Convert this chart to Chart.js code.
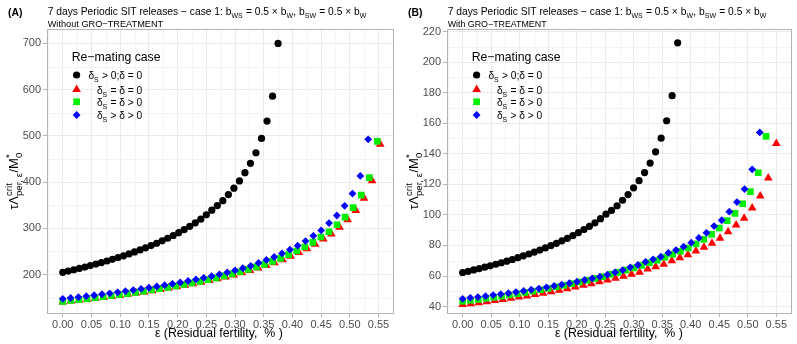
<!DOCTYPE html>
<html><head><meta charset="utf-8">
<script src="https://cdn.jsdelivr.net/npm/chart.js@4.4.0/dist/chart.umd.min.js"></script>
<style>
html,body{margin:0;padding:0;background:#fff;}
#wrap{position:relative;width:797px;height:344px;overflow:hidden;background:#fff;}
.pane{position:absolute;top:0;height:344px;}
</style></head><body>
<div id="wrap">
<div class="pane" style="left:0;width:400px"><canvas id="cA" width="400" height="344"></canvas></div>
<div class="pane" style="left:400px;width:397px"><canvas id="cB" width="397" height="344"></canvas></div>
</div>
<script>
// ---------- tick labels ----------
const xTicks = [0, 0.05, 0.10, 0.15, 0.20, 0.25, 0.30, 0.35, 0.40, 0.45, 0.50, 0.55];
const yTicksA = [200, 300, 400, 500, 600, 700];
const yTicksB = [40, 60, 80, 100, 120, 140, 160, 180, 200, 220];
const legendLabels = ['δS > 0;δ = 0', 'δS = δ = 0', 'δS = δ > 0', 'δS > δ > 0'];

// ---------- Panel A (Without GRO-TREATMENT) ----------
const epsA_black = [0,.0096,.0192,.0288,.0385,.0481,.0577,.0673,.0769,.0865,.0962,.1058,.1154,.125,.1346,.1442,.1538,.1635,.1731,.1827,.1923,.2019,.2115,.2212,.2308,.2404,.25,.2596,.2692,.2788,.2885,.2981,.3077,.3173,.3269,.3365,.3462,.3558,.3654,.375];
const valA_black = [205,207.7,210.5,213.4,216.4,219.5,222.7,226,229.5,233,236.8,240.7,244.8,249,253.4,258,262.8,267.8,273.1,278.7,284.6,290.8,297.4,304.4,311.9,320,329.3,339.4,349.4,360,373,386.9,402.6,420.5,440.7,463.6,494.6,532,586,700];

const epsA_red = [0,.0142,.0284,.0425,.0567,.0709,.0851,.0993,.1134,.1276,.1418,.156,.1702,.1843,.1985,.2127,.2269,.2411,.2552,.2694,.2836,.2978,.312,.3261,.3403,.3545,.3687,.3829,.397,.4112,.4254,.4396,.4538,.4679,.4821,.4963,.5105,.5247,.5388,.553];
const valA_red = [140.8,142.7,144.6,146.6,148.6,150.7,152.9,155.1,157.5,160,162.5,165.2,168,170.8,173.8,176.9,180.2,183.6,187.2,191.1,195.1,199.4,204,208.9,214.1,219.6,225.8,232.1,239.8,247.6,256,265.6,276.9,288,302.6,318.8,338.8,365,403,482];

const epsA_green = [0,.0141,.0281,.0422,.0562,.0703,.0843,.0984,.1124,.1265,.1405,.1546,.1686,.1827,.1967,.2108,.2248,.2389,.2529,.267,.281,.2951,.3091,.3232,.3372,.3513,.3653,.3794,.3934,.4075,.4215,.4356,.4496,.4637,.4777,.4918,.5058,.5199,.5339,.548];
const valA_green = [142.1,144,145.9,148,150,152.1,154.3,156.6,159,161.5,164.1,166.8,169.6,172.5,175.5,178.6,182,185.4,189.1,193,197.2,201.6,206.3,211.3,216.6,222.2,228.7,235.1,243.1,251.1,259.7,269.6,281.3,292.7,307.8,324.4,345,371.8,409.7,488.1];

const epsA_blue = [0,.0136,.0273,.0409,.0546,.0682,.0818,.0955,.1091,.1228,.1364,.15,.1637,.1773,.191,.2046,.2182,.2319,.2455,.2592,.2728,.2864,.3001,.3137,.3274,.341,.3546,.3683,.3819,.3956,.4092,.4228,.4365,.4501,.4638,.4774,.491,.5047,.5183,.532];
const valA_blue = [147.6,149.4,151.3,153.3,155.4,157.5,159.6,161.8,164.1,166.5,169,171.6,174.3,177.1,180,183,186.2,189.5,193,196.7,200.6,204.7,209.1,213.8,218.8,225.2,231.7,238.1,245.9,253.9,262.5,272.6,284,295.5,311.4,327.8,348.7,375.2,413.4,492.5];

// ---------- Panel B (With GRO-TREATMENT) ----------
const epsB_black = [0,.0097,.0193,.029,.0387,.0483,.058,.0677,.0773,.087,.0967,.1063,.116,.1257,.1353,.145,.1547,.1643,.174,.1837,.1933,.203,.2127,.2223,.232,.2417,.2513,.261,.2707,.2803,.29,.2997,.3093,.319,.3287,.3383,.348,.3577,.3673,.377];
const valB_black = [62.3,63.1,64,64.9,65.8,66.7,67.7,68.7,69.7,70.8,72,73.2,74.4,75.7,77,78.4,79.9,81.4,83,84.7,86.5,88.4,90.4,92.5,94.8,97.5,100.5,102.9,106,109.6,113.3,117.7,122.4,127.7,133.9,141.3,150.2,161.6,178,212.6];

const epsB_red = [0,.0141,.0282,.0423,.0564,.0705,.0846,.0987,.1128,.1269,.141,.1551,.1692,.1833,.1974,.2115,.2256,.2397,.2538,.2679,.282,.2961,.3102,.3243,.3384,.3526,.3667,.3808,.3949,.409,.4231,.4372,.4513,.4654,.4795,.4936,.5077,.5218,.5359,.55];
const valB_red = [41.3,41.9,42.5,43.2,43.9,44.6,45.4,46.2,47,47.9,48.8,49.7,50.7,51.7,52.8,53.9,55,56.2,57.4,58.5,59.8,61.1,62.4,64.6,66.1,67.7,70,72,74,76.4,78.8,81.4,84.7,89,93.4,97.8,104.5,112.4,124.1,146.8];

const epsB_green = [0,.0136,.0273,.0409,.0546,.0682,.0818,.0955,.1091,.1228,.1364,.15,.1637,.1773,.191,.2046,.2182,.2319,.2455,.2592,.2728,.2864,.3001,.3137,.3274,.341,.3546,.3683,.3819,.3956,.4092,.4228,.4365,.4501,.4638,.4774,.491,.5047,.5183,.532];
const valB_green = [43.5,44.1,44.7,45.4,46.1,46.8,47.6,48.4,49.2,50.1,51,51.9,52.9,53.9,55,56.1,57.2,58.4,59.6,61.1,62.4,63.9,65.3,67,68.7,70.3,72.3,74.2,76.2,78.3,81,84,87.3,91.4,96.2,101,107.3,115.2,127.6,151.4];

const epsB_blue = [0,.0134,.0267,.0401,.0534,.0668,.0802,.0935,.1069,.1202,.1336,.147,.1603,.1737,.187,.2004,.2138,.2271,.2405,.2538,.2672,.2806,.2939,.3073,.3206,.334,.3474,.3607,.3741,.3874,.4008,.4142,.4275,.4409,.4542,.4676,.481,.4943,.5077,.521];
const valB_blue = [45.1,45.7,46.2,46.8,47.5,48.1,48.8,49.5,50.2,51,51.8,52.6,53.5,54.4,55.3,56.3,57.4,58.5,59.6,60.9,62.4,63.9,65.7,67.2,69.2,70.9,72.6,75.1,77,79.2,81.8,84.9,88.3,92.7,96.5,102.1,108.4,116.9,129.8,154];

// ---------- styling ----------
const FONT = '"Liberation Sans", Arial, Helvetica, sans-serif';
const COL = {black:'#000000', red:'#ff0000', green:'#00ee00', blue:'#0000ff'};
const SHAPE = {black:{style:'circle', r:3.6}, red:{style:'triangle', r:5}, green:{style:'rect', r:4.7}, blue:{style:'rectRot', r:3.9}};
let SCR = 0.68;

function pts(xs, ys){ return xs.map((x,i)=>({x:x, y:ys[i]})); }

function segW(ctx, s, size, bold){
  const b = bold ? 'bold ' : '';
  if (s.t !== undefined){ ctx.font = b + size + 'px ' + FONT; return ctx.measureText(s.t).width; }
  ctx.font = b + (size*SCR) + 'px ' + FONT;
  let w = 0;
  if (s.sub) w = Math.max(w, ctx.measureText(s.sub).width);
  if (s.sup) w = Math.max(w, ctx.measureText(s.sup).width);
  return w + size*0.04;
}
function richW(ctx, segs, size, bold){ let w=0; for(const s of segs) w+=segW(ctx,s,size,bold); return w; }
function drawRich(ctx, segs, x, y, size, bold){
  const b = bold ? 'bold ' : '';
  let cx = x;
  ctx.textAlign='left'; ctx.textBaseline='alphabetic';
  for (const s of segs){
    const w = segW(ctx, s, size, bold);
    if (s.t !== undefined){ ctx.font = b + size + 'px ' + FONT; ctx.fillText(s.t, cx, y); }
    else {
      ctx.font = b + (size*SCR) + 'px ' + FONT;
      if (s.sub) ctx.fillText(s.sub, cx, y + size*0.3);
      if (s.sup) ctx.fillText(s.sup, cx, y - size*0.45);
    }
    cx += w;
  }
}
function fit(ctx, segs, target, bold){ const w = richW(ctx, segs, 10, bold); return 10*target/w; }

function legendSegs(label){
  return [{t:'δ'},{sub:'S'},{t:label.slice(2)}];
}

function drawMarker(ctx, kind, x, y){
  const sh = SHAPE[kind], r = sh.r;
  ctx.fillStyle = COL[kind];
  ctx.beginPath();
  if (sh.style==='circle'){ ctx.arc(x,y,r,0,Math.PI*2); }
  else if (sh.style==='triangle'){
    ctx.moveTo(x, y - r);
    ctx.lineTo(x + r*Math.sin(Math.PI*2/3), y - r*Math.cos(Math.PI*2/3));
    ctx.lineTo(x + r*Math.sin(Math.PI*4/3), y - r*Math.cos(Math.PI*4/3));
    ctx.closePath();
  } else if (sh.style==='rect'){ const s=r*Math.SQRT1_2; ctx.rect(x-s,y-s,2*s,2*s); }
  else { ctx.moveTo(x,y-r); ctx.lineTo(x+r,y); ctx.lineTo(x,y+r); ctx.lineTo(x-r,y); ctx.closePath(); }
  ctx.fill();
}

function decorPlugin(cfg){
  return {
    id:'decor'+cfg.letter,
    beforeDatasetsDraw(chart){
      const ctx = chart.ctx, a = chart.chartArea, xs = chart.scales.x, ys = chart.scales.y;
      ctx.save();
      ctx.strokeStyle = '#f4f4f4'; ctx.lineWidth = 1;
      for (let i=-1;i<xTicks.length;i++){
        const v = (i<0? xTicks[0]-0.025 : xTicks[i]+0.025);
        if (v < xs.min || v > xs.max) continue;
        const px = Math.round(xs.getPixelForValue(v))+0.5;
        ctx.beginPath(); ctx.moveTo(px,a.top); ctx.lineTo(px,a.bottom); ctx.stroke();
      }
      const yt = cfg.yTicks, st = yt[1]-yt[0];
      for (let i=-1;i<yt.length;i++){
        const v = (i<0? yt[0]-st/2 : yt[i]+st/2);
        if (v < ys.min || v > ys.max) continue;
        const py = Math.round(ys.getPixelForValue(v))+0.5;
        ctx.beginPath(); ctx.moveTo(a.left,py); ctx.lineTo(a.right,py); ctx.stroke();
      }
      ctx.restore();
    },
    afterDatasetsDraw(chart){
      const ctx = chart.ctx, a = chart.chartArea;
      ctx.save();
      ctx.strokeStyle = '#b3b3b3'; ctx.lineWidth = 1;
      ctx.strokeRect(Math.round(a.left)+0.5, Math.round(a.top)-0.5, Math.round(a.right-a.left)-1, Math.round(a.bottom-a.top)+1);
      ctx.restore();
    },
    afterDraw(chart){
      const ctx = chart.ctx;
      ctx.save();
      ctx.fillStyle = '#000';
      SCR = 0.68;
      // panel letter
      const lt = [{t:'('+cfg.letter+')'}];
      drawRich(ctx, lt, 8, 15.5, fit(ctx, lt, 14.5, true), true);
      // title
      const title = [{t:'7 days Periodic SIT releases − case 1: b'},{sub:'WS'},{t:' = 0.5 × b'},{sub:'W'},{t:', b'},{sub:'SW'},{t:' = 0.5 × b'},{sub:'W'}];
      drawRich(ctx, title, 47.7, 15.3, fit(ctx, title, 319), false);
      const sub = [{t:cfg.subtitle}];
      drawRich(ctx, sub, 47.7, 26.6, fit(ctx, sub, cfg.subW), false);
      // x axis title
      const xt = [{t:'ε (Residual fertility,  % )'}];
      const xs = fit(ctx, xt, 128);
      drawRich(ctx, xt, 218.9 - 64, 337, xs, false);
      // y axis title (rotated)
      SCR = 0.74;
      const ylab = [{t:'τΛ'},{sup:'crit', sub:'per, ε'},{t:'/M'},{sup:'*', sub:'0'}];
      const ysz = 13;
      const yw = richW(ctx, ylab, ysz);
      ctx.save();
      ctx.translate(18.3, 181);
      ctx.rotate(-Math.PI/2);
      drawRich(ctx, ylab, -yw/2, 0, ysz, false);
      ctx.restore();
      SCR = 0.68;
      // legend
      const lg = [{t:'Re−mating case'}];
      drawRich(ctx, lg, 71.7, 60.7, fit(ctx, lg, 89), false);
      const kinds = ['black','red','green','blue'];
      const cy = [75, 89.5, 101.8, 115];
      const es = fit(ctx, legendSegs(legendLabels[0]), 54);
      kinds.forEach((k,i)=>{
        drawMarker(ctx, k, 76.6, cy[i]);
        ctx.fillStyle = '#000';
        const segs = legendSegs(legendLabels[i]);
        const w = richW(ctx, segs, es);
        drawRich(ctx, segs, 142.3 - w, cy[i] + 4, es, false);
      });
      ctx.restore();
    }
  };
}

function makeChart(id, cfg){
  const ds = (kind, xs, ys, order) => ({
    label: kind, data: pts(xs, ys), order: order,
    pointStyle: SHAPE[kind].style, pointRadius: SHAPE[kind].r, pointHoverRadius: SHAPE[kind].r,
    pointBackgroundColor: COL[kind], pointBorderWidth: 0, backgroundColor: COL[kind], borderColor: COL[kind], showLine:false
  });
  return new Chart(document.getElementById(id), {
    type:'scatter',
    data:{ datasets:[
      ds('blue', cfg.blue[0], cfg.blue[1], 0),
      ds('green', cfg.green[0], cfg.green[1], 1),
      ds('red', cfg.red[0], cfg.red[1], 2),
      ds('black', cfg.black[0], cfg.black[1], 3)
    ]},
    options:{
      responsive:false, animation:false, devicePixelRatio:1,
      layout:{padding:{top:30, right:cfg.padR, left:0, bottom:0}},
      plugins:{legend:{display:false}, tooltip:{enabled:false}, title:{display:false}},
      scales:{
        x:{ type:'linear', min:-0.0275, max:0.5775,
          afterFit(s){ s.height = 31; },
          afterBuildTicks(s){ s.ticks = xTicks.map(v=>({value:v})); },
          ticks:{ callback:(v)=>Number(v).toFixed(2), color:'#4d4d4d', font:{family:FONT, size:11}, padding:1, maxRotation:0, autoSkip:false },
          grid:{ color:'#ebebeb', lineWidth:1, tickColor:'#b3b3b3', tickLength:4, drawTicks:true },
          border:{ display:false }
        },
        y:{ type:'linear', min:cfg.ymin, max:cfg.ymax,
          afterFit(s){ s.width = 47; },
          afterBuildTicks(s){ s.ticks = cfg.yTicks.map(v=>({value:v})); },
          ticks:{ callback:(v)=>String(v), color:'#4d4d4d', font:{family:FONT, size:11}, padding:2, autoSkip:false },
          grid:{ color:'#ebebeb', lineWidth:1, tickColor:'#b3b3b3', tickLength:4, drawTicks:true },
          border:{ display:false }
        }
      }
    },
    plugins:[decorPlugin(cfg)]
  });
}

makeChart('cA', {
  letter:'A', subtitle:'Without GRO−TREATMENT', subW:115.6, padR:5.7,
  ymin:117, ymax:729, yTicks:yTicksA,
  black:[epsA_black, valA_black], red:[epsA_red, valA_red], green:[epsA_green, valA_green], blue:[epsA_blue, valA_blue]
});
makeChart('cB', {
  letter:'B', subtitle:'With GRO−TREATMENT', subW:99, padR:2.5,
  ymin:35.8, ymax:221, yTicks:yTicksB,
  black:[epsB_black, valB_black], red:[epsB_red, valB_red], green:[epsB_green, valB_green], blue:[epsB_blue, valB_blue]
});
</script>
</body></html>
